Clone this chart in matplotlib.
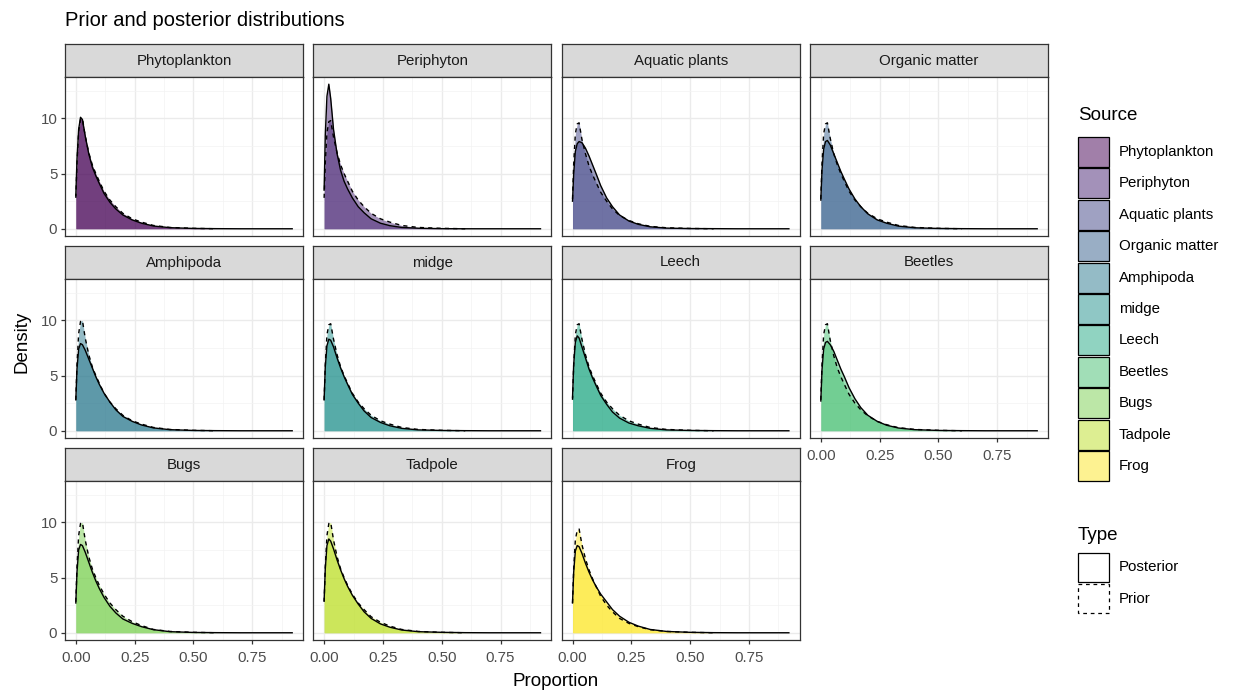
import numpy as np
import matplotlib
matplotlib.use("Agg")
import matplotlib.pyplot as plt
from matplotlib.patches import Rectangle

plt.rcParams['font.family'] = ['Liberation Sans', 'DejaVu Sans']

# ---- data ----
sources = ['Phytoplankton', 'Periphyton', 'Aquatic plants', 'Organic matter',
           'Amphipoda', 'midge', 'Leech', 'Beetles', 'Bugs', 'Tadpole', 'Frog']

x_post = [0, 0.005, 0.012, 0.02, 0.028, 0.04, 0.055, 0.07, 0.085, 0.1, 0.12,
          0.145, 0.17, 0.2, 0.24, 0.28, 0.33, 0.4, 0.5, 0.6, 0.7, 0.8, 0.92]
x_prior = x_post[:20]

post_phyto   = [3.0, 6.3, 9.0, 10.1, 9.9, 8.4, 6.8, 5.6, 4.8, 4.1, 3.2, 2.4, 1.8, 1.25, 0.8, 0.5, 0.25, 0.1, 0.03, 0.01, 0, 0, 0]
post_peri    = [3.5, 8.5, 12.0, 13.1, 11.8, 9.0, 6.8, 5.3, 4.3, 3.6, 2.8, 2.0, 1.45, 0.9, 0.5, 0.28, 0.12, 0.05, 0.01, 0.0, 0, 0, 0]
post_aquatic = [2.5, 5.0, 7.0, 7.7, 7.9, 7.8, 7.3, 6.6, 5.8, 5.0, 3.9, 2.8, 2.0, 1.25, 0.7, 0.4, 0.18, 0.06, 0.02, 0.01, 0, 0, 0]
post_organic = [2.6, 5.3, 7.2, 7.9, 8.0, 7.6, 6.8, 6.0, 5.2, 4.5, 3.6, 2.7, 2.0, 1.35, 0.8, 0.5, 0.24, 0.09, 0.03, 0.01, 0, 0, 0]
post_amphi   = [2.8, 5.6, 7.4, 7.9, 7.8, 7.3, 6.5, 5.7, 4.9, 4.2, 3.4, 2.6, 1.9, 1.3, 0.85, 0.52, 0.26, 0.1, 0.03, 0.01, 0, 0, 0]
post_midge   = [2.8, 5.8, 7.7, 8.3, 8.2, 7.6, 6.6, 5.7, 4.9, 4.2, 3.3, 2.5, 1.8, 1.2, 0.75, 0.45, 0.22, 0.08, 0.03, 0.01, 0, 0, 0]
post_leech   = [3.0, 6.0, 8.0, 8.6, 8.4, 7.6, 6.6, 5.6, 4.8, 4.1, 3.2, 2.4, 1.7, 1.15, 0.7, 0.45, 0.22, 0.08, 0.03, 0.01, 0, 0, 0]
post_beetles = [2.7, 5.5, 7.4, 8.0, 8.1, 7.8, 7.2, 6.4, 5.6, 4.9, 3.9, 2.9, 2.1, 1.4, 0.85, 0.5, 0.25, 0.1, 0.03, 0.01, 0, 0, 0]
post_bugs    = [2.7, 5.5, 7.5, 8.0, 7.9, 7.3, 6.4, 5.5, 4.7, 4.0, 3.2, 2.4, 1.8, 1.25, 0.85, 0.55, 0.28, 0.1, 0.03, 0.01, 0, 0, 0]
post_tadpole = [2.9, 5.8, 7.9, 8.5, 8.3, 7.6, 6.6, 5.7, 4.9, 4.2, 3.4, 2.6, 1.9, 1.3, 0.8, 0.5, 0.25, 0.1, 0.04, 0.01, 0, 0, 0]
post_frog    = [2.7, 5.5, 7.4, 7.9, 7.8, 7.2, 6.3, 5.5, 4.8, 4.2, 3.5, 2.8, 2.1, 1.5, 0.95, 0.6, 0.3, 0.12, 0.04, 0.01, 0, 0, 0]

prior_phyto   = [2.8, 6.0, 8.8, 9.9, 10.0, 8.4, 6.9, 5.8, 5.0, 4.3, 3.4, 2.6, 2.0, 1.4, 0.9, 0.6, 0.3, 0.12, 0.04, 0.0]
prior_peri    = [2.8, 6.0, 8.7, 9.7, 9.8, 8.3, 6.9, 5.8, 5.0, 4.3, 3.4, 2.6, 2.0, 1.4, 0.9, 0.6, 0.3, 0.12, 0.04, 0.0]
prior_aquatic = [2.7, 5.9, 8.6, 9.5, 9.6, 8.1, 6.8, 5.7, 4.9, 4.2, 3.3, 2.5, 1.8, 1.2, 0.75, 0.45, 0.22, 0.09, 0.03, 0.0]
prior_organic = [2.7, 5.9, 8.6, 9.5, 9.6, 8.2, 6.8, 5.8, 5.0, 4.3, 3.4, 2.6, 2.0, 1.4, 0.9, 0.6, 0.3, 0.12, 0.04, 0.0]
prior_amphi   = [2.8, 6.0, 8.8, 9.9, 10.0, 8.4, 6.9, 5.8, 5.0, 4.3, 3.4, 2.6, 2.0, 1.4, 0.9, 0.6, 0.3, 0.12, 0.04, 0.0]
prior_midge   = [2.8, 6.0, 8.7, 9.6, 9.7, 8.3, 6.9, 5.8, 5.0, 4.3, 3.4, 2.6, 2.0, 1.4, 0.9, 0.6, 0.3, 0.12, 0.04, 0.0]
prior_leech   = [2.8, 6.0, 8.7, 9.6, 9.7, 8.3, 6.9, 5.8, 5.0, 4.3, 3.4, 2.6, 2.0, 1.4, 0.9, 0.6, 0.3, 0.12, 0.04, 0.0]
prior_beetles = [2.8, 6.0, 8.7, 9.6, 9.7, 8.2, 6.8, 5.7, 4.9, 4.2, 3.3, 2.5, 1.9, 1.35, 0.85, 0.55, 0.28, 0.12, 0.04, 0.0]
prior_bugs    = [2.8, 6.0, 8.8, 9.9, 10.0, 8.4, 6.9, 5.8, 5.0, 4.3, 3.5, 2.7, 2.1, 1.5, 1.0, 0.65, 0.3, 0.12, 0.04, 0.0]
prior_tadpole = [2.8, 6.0, 8.8, 9.9, 10.0, 8.4, 6.9, 5.8, 5.0, 4.3, 3.5, 2.7, 2.1, 1.45, 0.95, 0.6, 0.3, 0.12, 0.04, 0.0]
prior_frog    = [2.7, 5.8, 8.4, 9.3, 9.4, 8.0, 6.7, 5.7, 4.9, 4.2, 3.3, 2.5, 1.9, 1.3, 0.85, 0.55, 0.28, 0.12, 0.04, 0.0]

posteriors = [post_phyto, post_peri, post_aquatic, post_organic, post_amphi, post_midge,
              post_leech, post_beetles, post_bugs, post_tadpole, post_frog]
priors = [prior_phyto, prior_peri, prior_aquatic, prior_organic, prior_amphi, prior_midge,
          prior_leech, prior_beetles, prior_bugs, prior_tadpole, prior_frog]

x_ticks = [0.0, 0.25, 0.5, 0.75]
x_ticklabels = ['0.00', '0.25', '0.50', '0.75']
y_ticks = [0, 5, 10]

# ---- layout (pixels) ----
W, H = 1234, 695
fig = plt.figure(figsize=(W / 100, H / 100), dpi=100)
fig.patch.set_facecolor('white')

def px_axes(x0, y0, x1, y1):
    return fig.add_axes([x0 / W, 1 - y1 / H, (x1 - x0) / W, (y1 - y0) / H])

colors = plt.cm.viridis(np.linspace(0, 1, len(sources)))
col_left = [65, 313.3, 561.7, 810]
panel_w = 238
row_top = [44, 246, 448]
strip_h = 33
panel_h = 159
grey20 = '#333333'
small = 10.8

for i, name in enumerate(sources):
    r, c = divmod(i, 4)
    x0 = col_left[c]
    y0 = row_top[r]
    # strip
    sax = px_axes(x0, y0, x0 + panel_w, y0 + strip_h)
    sax.set_facecolor('#D9D9D9')
    sax.set_xticks([]); sax.set_yticks([])
    for sp in sax.spines.values():
        sp.set_color(grey20); sp.set_linewidth(0.9)
    sax.text(0.5, 0.5, name, ha='center', va='center', fontsize=small, color='#1A1A1A',
             transform=sax.transAxes)

    ax = px_axes(x0, y0 + strip_h, x0 + panel_w, y0 + strip_h + panel_h)
    ax.set_xlim(-0.046, 0.966)
    ax.set_ylim(-0.655, 13.75)
    ax.set_axisbelow(True)
    ax.set_xticks(x_ticks)
    ax.set_yticks(y_ticks)
    ax.set_xticks([0.125, 0.375, 0.625, 0.875], minor=True)
    ax.set_yticks([2.5, 7.5, 12.5], minor=True)
    ax.grid(which='major', color='#EBEBEB', lw=1.0)
    ax.grid(which='minor', color='#F3F3F3', lw=0.5)
    ax.tick_params(which='minor', length=0)
    ax.tick_params(which='major', length=3, width=0.9, color=grey20,
                   labelsize=small, labelcolor='#4D4D4D', pad=2.5)
    ax.tick_params(axis='x', pad=5)
    for sp in ax.spines.values():
        sp.set_color(grey20); sp.set_linewidth(0.9)

    c_fill = colors[i]
    ax.fill_between(x_prior, priors[i], 0, color=c_fill, alpha=0.5, lw=0)
    ax.fill_between(x_post, posteriors[i], 0, color=c_fill, alpha=0.5, lw=0)
    ax.plot(x_post, posteriors[i], color='black', lw=1.0)
    ax.plot(x_prior, priors[i], color='black', lw=1.0, linestyle=(0, (3, 3)))

    if c == 0:
        ax.set_yticklabels(['0', '5', '10'])
    else:
        ax.tick_params(axis='y', length=0, labelleft=False)
    bottom = (r == 2) or (r == 1 and c == 3)
    if bottom:
        ax.set_xticklabels(x_ticklabels)
    else:
        ax.tick_params(axis='x', length=0, labelbottom=False)

# titles
fig.text(65 / W, 1 - 20 / H, 'Prior and posterior distributions', fontsize=14.5,
         ha='left', va='center', color='black')
fig.text(22 / W, 1 - 342 / H, 'Density', rotation=90, fontsize=13.5,
         ha='center', va='center', color='black')
fig.text(556 / W, 1 - 681 / H, 'Proportion', fontsize=13.5,
         ha='center', va='center', color='black')

# legend drawn in pixel coordinates
lax = fig.add_axes([0, 0, 1, 1])
lax.set_xlim(0, W); lax.set_ylim(H, 0)
lax.axis('off')
lax.text(1078, 115, 'Source', fontsize=13.5, ha='left', va='center')
for i, name in enumerate(sources):
    yc = 152 + 31.4 * i
    lax.add_patch(Rectangle((1078, yc - 15), 31, 30, facecolor=colors[i], alpha=0.5, lw=0))
    lax.add_patch(Rectangle((1078, yc - 15), 31, 30, facecolor='none', edgecolor='black', lw=0.9))
    lax.text(1119, yc, name, fontsize=small, ha='left', va='center')
lax.text(1078, 535, 'Type', fontsize=13.5, ha='left', va='center')
lax.add_patch(Rectangle((1078, 553), 31, 29, facecolor='white', edgecolor='black', lw=0.9))
lax.text(1119, 567, 'Posterior', fontsize=small, ha='left', va='center')
lax.add_patch(Rectangle((1078, 584), 31, 29, facecolor='white', edgecolor='black', lw=0.9,
                        linestyle=(0, (3, 3))))
lax.text(1119, 599, 'Prior', fontsize=small, ha='left', va='center')

fig.savefig('out.png', dpi=100)
